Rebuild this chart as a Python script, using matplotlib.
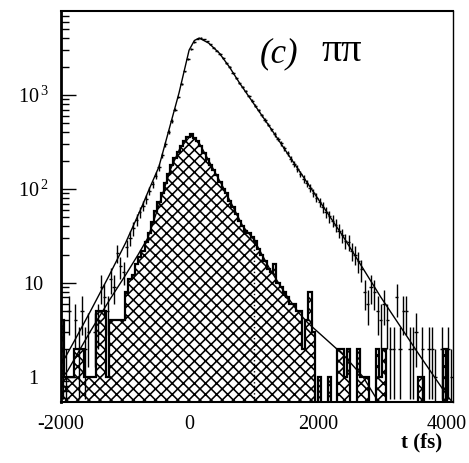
import numpy as np
import matplotlib
matplotlib.use('Agg')
import matplotlib.pyplot as plt

plt.rcParams['font.family'] = ['Liberation Serif', 'DejaVu Serif']
plt.rcParams['mathtext.fontset'] = 'custom'
plt.rcParams['mathtext.rm'] = 'Liberation Serif'
plt.rcParams['hatch.linewidth'] = 1.15

# 50 fs bins from -2000 to 4100 fs
bin_edges = np.arange(-2000, 4101, 50)

# all events (points with error bars)
total_counts = [2, 1, 5, 0, 4, 2, 5, 2, 3, 0,
                3, 4, 9, 7, 5, 11, 9, 21, 15, 13,
                24, 30, 38, 47, 57, 66, 78, 95, 112, 138,
                170, 228, 300, 400, 530, 700, 950, 1300, 1780, 2400,
                3100, 3650, 3980, 4030, 3900, 3720, 3450, 3200, 2960, 2730,
                2480, 2200, 1970, 1720, 1530, 1350, 1220, 1100, 980, 870,
                770, 690, 610, 545, 485, 430, 380, 340, 305, 270,
                240, 210, 185, 165, 145, 128, 115, 103, 91, 81,
                72, 64, 57, 51, 46, 41, 36, 32, 28, 27,
                22, 20, 17, 14, 8, 6, 9, 8, 5, 4,
                6, 4, 2, 2, 7, 2, 5, 5, 2, 2,
                3, 0, 2, 0, 2, 2, 1, 0, 2, 1, 2, 1]

# background (hatched histogram)
bkg_counts = [4, 1, 1, 1, 2, 2, 2, 1, 1, 1,
              1, 5, 5, 5, 1, 4, 4, 4, 4, 4,
              8, 11, 12, 16, 19, 22, 27, 34, 45, 58,
              72, 90, 115, 145, 180, 215, 250, 290, 325, 360,
              380, 350, 320, 290, 240, 210, 180, 160, 140, 120,
              100, 90, 75, 64, 54, 46, 40, 36, 34, 31,
              28, 23, 20, 17, 14, 13, 16, 10, 9, 8,
              7, 6, 6, 5, 5, 2, 4, 8, 3, 0,
              1, 0, 0, 1, 0, 0, 2, 2, 1, 2,
              0, 0, 2, 1, 1, 1, 0, 0, 2, 1,
              2, 0, 0, 0, 0, 0, 0, 0, 0, 0,
              0, 1, 1, 0, 0, 0, 0, 0, 0, 2, 0, 0]

# fitted curves
total_fit_t = [-2000, -1937, -1780, -1529, -1262, -996, -745, -635, -478, -321,
               -164, -7, 75, 150, 300, 463, 620, 777, 1000, 1248,
               1500, 1876, 2393, 2974, 3554, 4025, 4100]
total_fit_n = [1.45, 1.6, 2.5, 5.2, 11.6, 26.6, 64, 97, 171, 424,
               1050, 3000, 3800, 4040, 3560, 2790, 1990, 1346, 807, 458,
               253, 105, 31, 7.1, 1.8, 0.61, 0.53]

bkg_fit_t = [-2000, -1900, -1550, -1250, -1000, -800, -650, -460, -300, -150,
             25, 160, 365, 520, 680, 830, 1000, 1250, 1500, 1700,
             1850, 2100, 2400, 2700, 2900]
bkg_fit_n = [0.95, 1.15, 3.0, 6.5, 12, 20, 30, 72, 160, 270,
             375, 300, 165, 105, 64, 40, 29, 14, 7.5, 4.8,
             3.7, 2.6, 1.7, 1.0, 0.6]

cut_t = 1000
cut_top = 30

fig = plt.figure(figsize=(4.69, 4.63), dpi=100)
ax = fig.add_axes([0.1301, 0.1317, 0.8358, 0.8445])
ax.set_yscale('log')
ax.set_xlim(-2000, 4100)
ax.set_ylim(0.54, 7830)

bkg = np.array(bkg_counts, dtype=float)
bkg_draw = np.where(bkg > 0, bkg, 0.1)
ax.stairs(bkg_draw, bin_edges, baseline=0.1, fill=True, facecolor='white',
          edgecolor='black', hatch='xxx', linewidth=0, zorder=1)
ax.stairs(bkg_draw, bin_edges, baseline=0.1, fill=False, color='black',
          linewidth=1.6, zorder=2)

ax.vlines(cut_t, 0.1, cut_top, colors='black', linestyles=':', linewidth=1, zorder=2)

ax.plot(total_fit_t, total_fit_n, color='black', lw=1, zorder=3)
ax.plot(bkg_fit_t, bkg_fit_n, color='black', lw=1, zorder=3)

tot = np.array(total_counts, dtype=float)
centers = 0.5 * (bin_edges[:-1] + bin_edges[1:])
m = tot > 0
err = np.sqrt(tot[m])
lo = np.minimum(err, tot[m] - 0.01)
ax.errorbar(centers[m], tot[m], xerr=25, yerr=[lo, err], fmt='none',
            ecolor='black', elinewidth=1, capsize=0, zorder=4)

ax.set_xticks([-2000, 0, 2000, 4000])
ax.set_xticklabels(['-2000', '0', '2000', '4000'])
ax.set_yticks([1, 10, 100, 1000])
ax.set_yticklabels(['1', '10', r'$\mathregular{10^{\,2}}$', r'$\mathregular{10^{\,3}}$'])
ax.tick_params(axis='x', which='both', length=0, pad=9, labelsize=14.5)
ax.tick_params(axis='y', which='major', direction='in', length=11, width=1,
               pad=20, labelsize=14.5)
ax.tick_params(axis='y', which='minor', direction='in', length=6, width=1)
for lab in ax.get_yticklabels():
    lab.set_horizontalalignment('center')

ax.spines['left'].set_linewidth(2)
ax.spines['bottom'].set_linewidth(1.5)
ax.spines['top'].set_linewidth(1.5)
ax.spines['right'].set_linewidth(1)

fig.text(260 / 469, 1 - 62 / 463, '(c)', style='italic', fontsize=25, va='baseline')
fig.text(321 / 469, 1 - 61 / 463, 'ππ', fontsize=29, va='baseline')
fig.text(422 / 469, 1 - 442 / 463, 't (fs)', fontsize=15, fontweight='bold',
         ha='center', va='center')

fig.savefig('out.png', dpi=100)
